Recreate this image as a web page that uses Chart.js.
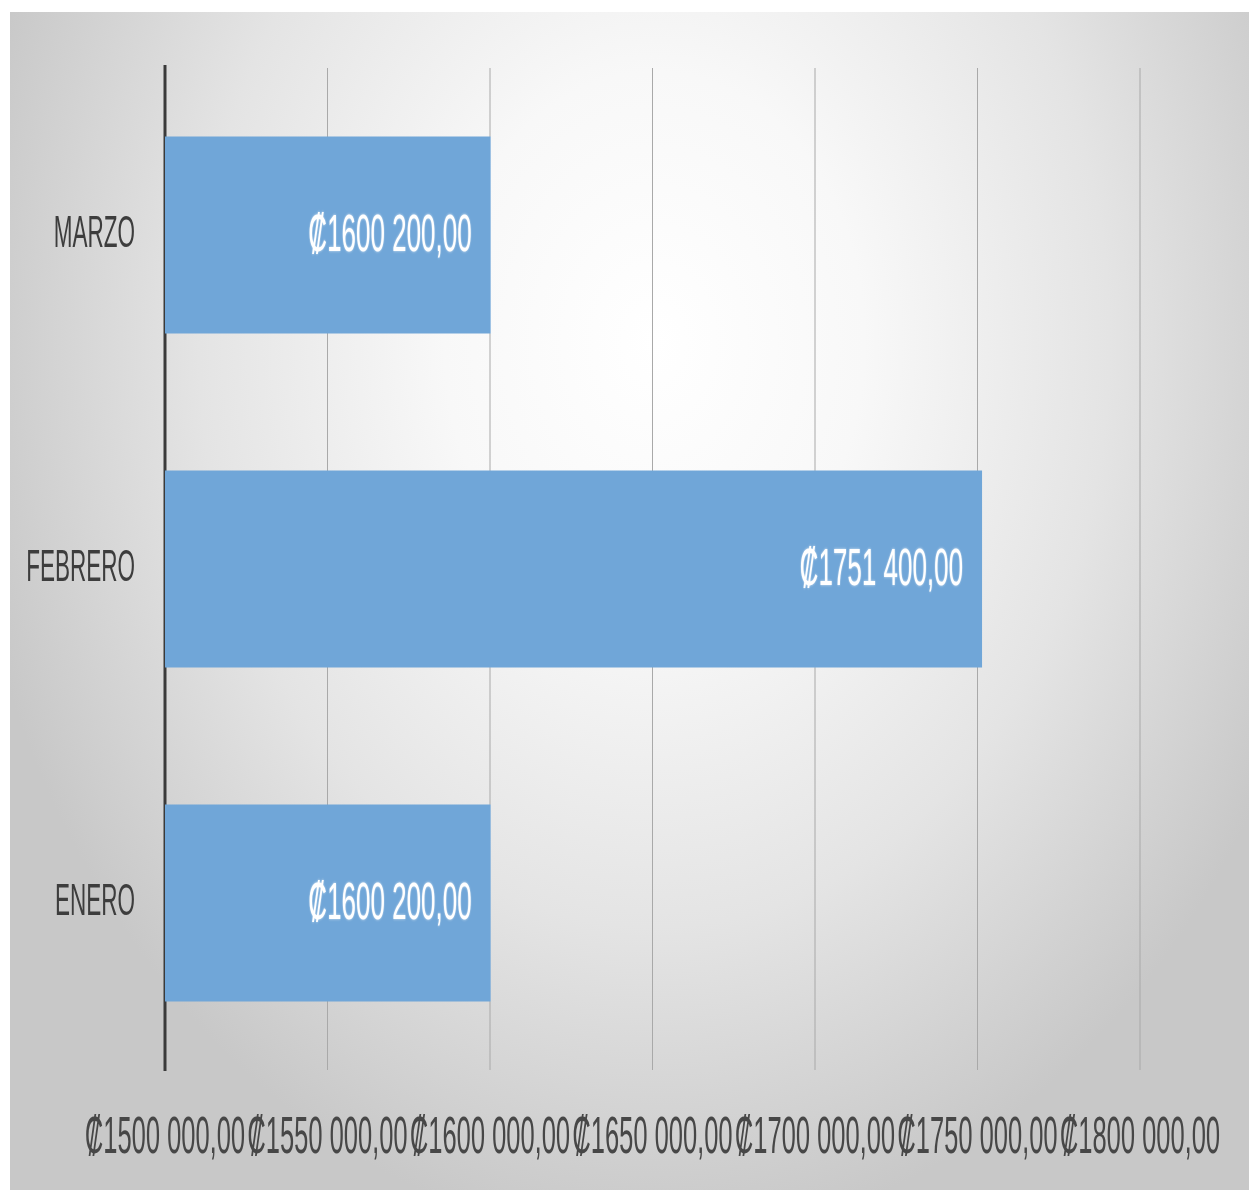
<!DOCTYPE html>
<html>
<head>
<meta charset="utf-8">
<script src="https://cdn.jsdelivr.net/npm/chart.js@4.4.1/dist/chart.umd.min.js"></script>
<style>
  html, body { margin:0; padding:0; background:#ffffff; width:1249px; height:1190px; overflow:hidden; }
  #bg { position:absolute; left:10px; top:12px; width:1239px; height:1178px;
        background: radial-gradient(ellipse 700px 900px at 52% 28%, #ffffff 0%, #f8f8f8 30%, #e4e4e4 65%, #c8c8c8 100%); }
  #wrap { position:absolute; left:10px; top:12px; width:1239px; height:589px;
          transform: scaleY(2); transform-origin: 0 0; }
</style>
</head>
<body>
<div id="bg"></div>
<div id="wrap"><canvas id="c"></canvas></div>
<script>
// ---- data ----
const categories = ['MARZO', 'FEBRERO', 'ENERO'];
const values = [1600200, 1751400, 1600200];
const tickValues = [1500000, 1550000, 1600000, 1650000, 1700000, 1750000, 1800000];
const tickLabels = ['₡1500 000,00', '₡1550 000,00', '₡1600 000,00', '₡1650 000,00', '₡1700 000,00', '₡1750 000,00', '₡1800 000,00'];

function fmt(v) {
  const th = Math.floor(v / 1000);
  const rest = String(v % 1000).padStart(3, '0');
  return '₡' + th + ' ' + rest + ',00';
}

const FONT = "'Liberation Sans', 'DejaVu Sans', sans-serif";

const dataLabelPlugin = {
  id: 'dataLabels',
  afterDatasetsDraw(chart) {
    const ctx = chart.ctx;
    const meta = chart.getDatasetMeta(0);
    ctx.save();
    ctx.font = '26px ' + FONT;
    ctx.textAlign = 'right';
    ctx.textBaseline = 'middle';
    ctx.fillStyle = '#ffffff';
    ctx.shadowColor = 'rgba(255,255,255,0.7)';
    ctx.shadowBlur = 3;
    meta.data.forEach((bar, i) => {
      ctx.fillText(fmt(values[i]), bar.x - 19, bar.y + 1);
    });
    ctx.restore();
  }
};

new Chart(document.getElementById('c'), {
  type: 'bar',
  data: {
    labels: categories,
    datasets: [{
      data: values,
      backgroundColor: '#70a6d8',
      borderWidth: 0,
      barPercentage: 0.59,
      categoryPercentage: 1.0
    }]
  },
  options: {
    indexAxis: 'y',
    responsive: true,
    maintainAspectRatio: false,
    devicePixelRatio: 2,
    animation: false,
    layout: { padding: { top: 28, right: 109, left: 0, bottom: 0 } },
    plugins: { legend: { display: false }, tooltip: { enabled: false } },
    scales: {
      x: {
        min: 1500000, max: 1800000,
        afterBuildTicks(scale) { scale.ticks = tickValues.map(v => ({ value: v })); },
        afterFit(scale) { scale.height = 60; scale.paddingLeft = 0; scale.paddingRight = 0; },
        grid: { color: '#a9a9a9', lineWidth: 1, drawTicks: false },
        border: { display: false },
        ticks: {
          autoSkip: false, maxRotation: 0, padding: 19,
          color: '#474747',
          font: { family: FONT, size: 25.5 },
          callback: (v, i) => tickLabels[i]
        }
      },
      y: {
        afterFit(scale) { scale.width = 155; scale.paddingTop = 0; scale.paddingBottom = 0; },
        grid: { display: false, drawTicks: false },
        border: { display: true, color: '#3a3a3a', width: 3 },
        ticks: {
          padding: 30,
          color: '#3d3d3d',
          font: { family: FONT, size: 22.5 }
        }
      }
    }
  },
  plugins: [dataLabelPlugin]
});
</script>
</body>
</html>
